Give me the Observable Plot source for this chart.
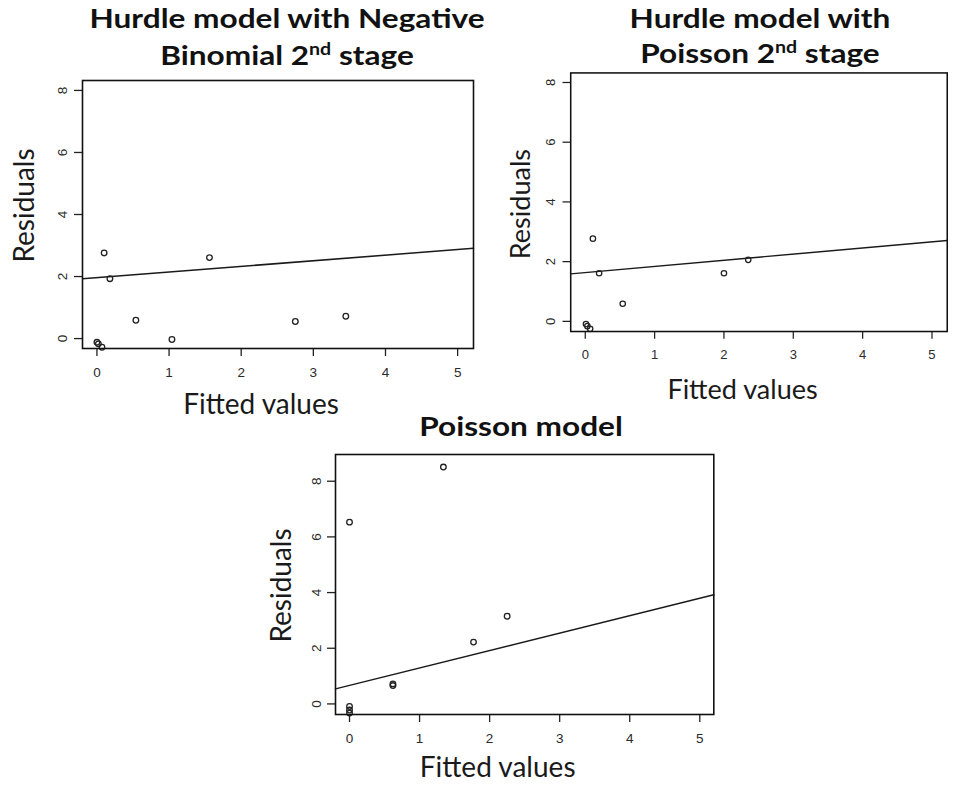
<!DOCTYPE html>
<html>
<head>
<meta charset="utf-8">
<script src="https://cdn.jsdelivr.net/npm/d3@7"></script>
<script src="https://cdn.jsdelivr.net/npm/@observablehq/plot@0.6"></script>
<style>
  html, body { margin: 0; padding: 0; background: #fff; }
  body { width: 954px; height: 787px; overflow: hidden; position: relative; }
  .panel { position: absolute; }
  .title { position: absolute; text-align: center; font-family: Lato, "Open Sans", sans-serif;
           font-weight: bold; font-size: 27px; color: #111; white-space: nowrap;
           transform: scaleX(1.17); transform-origin: 50% 50%; }
  .title sup { font-size: 0.62em; vertical-align: 0.6em; line-height: 0; }
</style>
</head>
<body>
<div class="title" style="left:37px; top:-1px; width:500px; line-height:37px;">Hurdle model with Negative<br>Binomial 2<sup>nd</sup> stage</div>
<div class="title" style="left:510px; top:0px; width:500px; line-height:35px;">Hurdle model with<br>Poisson 2<sup>nd</sup> stage</div>
<div class="title" style="left:271px; top:407px; width:500px; line-height:37px;">Poisson model</div>
<div id="p1" class="panel" style="left:0px; top:0px;"></div>
<div id="p2" class="panel" style="left:500px; top:0px;"></div>
<div id="p3" class="panel" style="left:250px; top:380px;"></div>
<script>
// ---- data ----
const xTicks = [0, 1, 2, 3, 4, 5];
const yTicks = [0, 2, 4, 6, 8];
const xLabel = "Fitted values";
const yLabel = "Residuals";

// Hurdle model with Negative Binomial 2nd stage
const nbFitted = [0.00, 0.02, 0.07, 0.10, 0.18, 0.54, 1.04, 1.56, 2.75, 3.45];
const nbResid  = [-0.12, -0.17, -0.28, 2.76, 1.93, 0.59, -0.03, 2.61, 0.55, 0.72];
const nbLineX  = [-0.20, 5.22];
const nbLineY  = [1.93, 2.91];

// Hurdle model with Poisson 2nd stage
const poFitted = [0.01, 0.03, 0.07, 0.11, 0.20, 0.54, 2.00, 2.35];
const poResid  = [-0.09, -0.16, -0.25, 2.77, 1.61, 0.59, 1.61, 2.06];
const poLineX  = [-0.21, 5.22];
const poLineY  = [1.59, 2.71];

// Poisson model
const pmFitted = [0.00, 0.00, 0.00, 0.00, 0.62, 0.62, 1.34, 1.77, 2.25];
const pmResid  = [6.53, -0.09, -0.22, -0.33, 0.72, 0.66, 8.51, 2.22, 3.15];
const pmLineX  = [-0.20, 5.20];
const pmLineY  = [0.54, 3.92];

function zip(xs, ys) { return xs.map((x, i) => ({fitted: x, resid: ys[i]})); }

function panel(cfg) {
  const pts = zip(cfg.fitted, cfg.resid);
  const ln = zip(cfg.lineX, cfg.lineY);
  const tickFont = {fontSize: 13.5, fontFamily: "Liberation Sans", fill: "#2a2a2a"};
  return Plot.plot({
    width: cfg.width, height: cfg.height,
    marginLeft: cfg.ml, marginRight: cfg.mr, marginTop: cfg.mt, marginBottom: cfg.mb,
    style: {background: "transparent", overflow: "visible"},
    x: {domain: cfg.xDomain},
    y: {domain: cfg.yDomain},
    marks: [
      Plot.axisX(xTicks, {tickSize: 8, text: null, stroke: "#222", strokeWidth: 1.3, label: null}),
      Plot.axisY(yTicks, {tickSize: 8, text: null, stroke: "#222", strokeWidth: 1.3, label: null}),
      Plot.text(xTicks, {x: d => d, frameAnchor: "bottom", text: d => String(d), dy: 8 + cfg.xPad,
        lineAnchor: "top", ...tickFont}),
      Plot.text(yTicks, {y: d => d, frameAnchor: "left", text: d => String(d), rotate: -90,
        dx: -(8 + cfg.yPad), textAnchor: "middle", lineAnchor: "bottom", ...tickFont}),
      Plot.line(ln, {x: "fitted", y: "resid", stroke: "#1a1a1a", strokeWidth: 1.5}),
      Plot.dot(pts, {x: "fitted", y: "resid", r: 2.8, stroke: "#222", strokeWidth: 1.3}),
      Plot.frame({stroke: "#111", strokeWidth: 1.6}),
      Plot.text([xLabel], {frameAnchor: "bottom", text: d => d, dx: cfg.xlDx, dy: cfg.xlDy,
        textAnchor: "middle", lineAnchor: "bottom", fontSize: 28, fontFamily: "Lato", fill: "#1a1a1a"}),
      Plot.text([yLabel], {frameAnchor: "left", text: d => d, rotate: -90, dx: cfg.ylDx, dy: cfg.ylDy,
        textAnchor: "middle", lineAnchor: "bottom", fontSize: 28, fontFamily: "Lato", fill: "#1a1a1a"})
    ]
  });
}

document.getElementById("p1").appendChild(panel({
  fitted: nbFitted, resid: nbResid, lineX: nbLineX, lineY: nbLineY,
  width: 480, height: 430, ml: 82, mr: 7, mt: 80, mb: 82,
  xDomain: [-0.2, 5.22], yDomain: [-0.32, 8.32], xPad: 11, yPad: 8,
  xlDx: -17, xlDy: 65, ylDx: -49, ylDy: -9
}));
document.getElementById("p2").appendChild(panel({
  fitted: poFitted, resid: poResid, lineX: poLineX, lineY: poLineY,
  width: 470, height: 430, ml: 72.7, mr: 7.5, mt: 75, mb: 87.3,
  xDomain: [-0.21, 5.22], yDomain: [-0.34, 8.32], xPad: 11, yPad: 8,
  xlDx: -17, xlDy: 70, ylDx: -42, ylDy: 2
}));
document.getElementById("p3").appendChild(panel({
  fitted: pmFitted, resid: pmResid, lineX: pmLineX, lineY: pmLineY,
  width: 470, height: 407, ml: 85, mr: 6.7, mt: 74, mb: 73,
  xDomain: [-0.2, 5.2], yDomain: [-0.38, 8.96], xPad: 11, yPad: 7,
  xlDx: -27, xlDy: 62, ylDx: -45, ylDy: 1
}));
</script>
</body>
</html>
